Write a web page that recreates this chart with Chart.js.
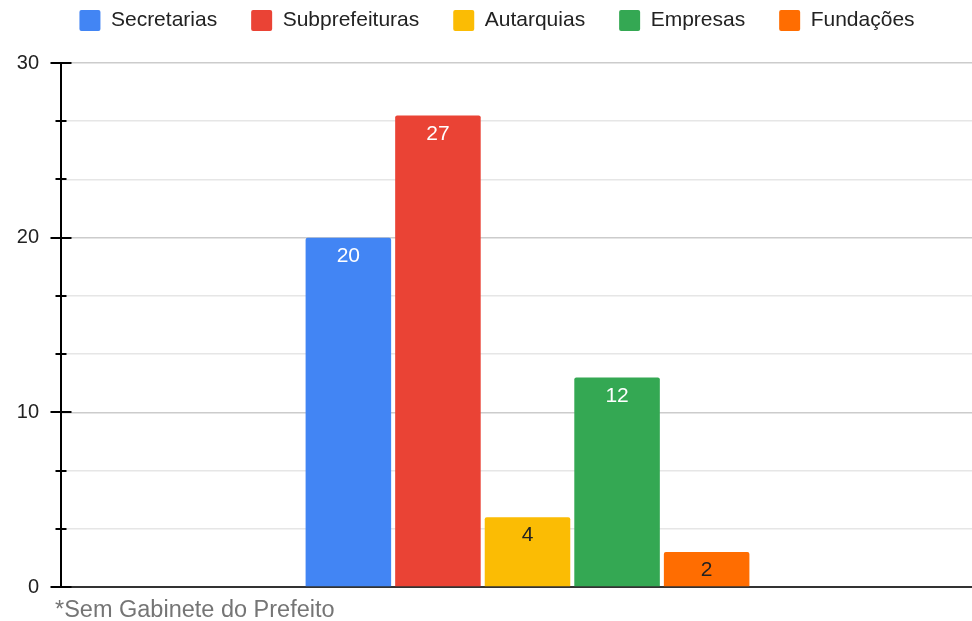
<!DOCTYPE html>
<html>
<head>
<meta charset="utf-8">
<script src="https://cdn.jsdelivr.net/npm/chart.js@4"></script>
<style>
  html, body { margin: 0; padding: 0; background: #fff; overflow: hidden; width: 972px; height: 621px; }
  #wrap { position: relative; width: 994px; height: 621px; }
  #note { position: absolute; left: 55px; top: 598px; font: 23.5px/23.5px "Liberation Sans", Arial, sans-serif; color: #757575; white-space: nowrap; }
</style>
</head>
<body>
<div id="wrap">
  <canvas id="c" width="994" height="621"></canvas>
  <div id="note">*Sem Gabinete do Prefeito</div>
</div>
<script>
const categories = [''];
const seriesNames = ['Secretarias', 'Subprefeituras', 'Autarquias', 'Empresas', 'Fundações'];
const seriesValues = [20, 27, 4, 12, 2];
const seriesColors = ['#4285F4', '#EA4335', '#FBBC04', '#34A853', '#FF6D01'];
const labelColors = ['#ffffff', '#ffffff', '#222222', '#ffffff', '#222222'];
const majorTicks = [0, 10, 20, 30];
const minorPerMajor = 3;

const FONT = '"Liberation Sans", Arial, sans-serif';
const yMin = majorTicks[0], yMax = majorTicks[majorTicks.length - 1];
const yStep = (majorTicks[1] - majorTicks[0]) / minorPerMajor;
const isMajor = v => majorTicks.some(m => Math.abs(m - v) < 1e-6);

const legendFix = {
  id: 'legendFix',
  beforeInit(chart) {
    const lg = chart.legend;
    if (!lg) return;
    const orig = lg.fit;
    lg.fit = function () { orig.call(this); this.height = 63; };
  },
  afterLayout(chart) {
    const lg = chart.legend;
    if (!lg) return;
    const pad = lg.options.labels.padding;
    const shift = (lg.top + pad) - 10;
    lg.top -= shift; lg.bottom -= shift;
    if (lg.legendHitBoxes) lg.legendHitBoxes.forEach(b => { b.top -= shift; });
  }
};

const valueLabels = {
  id: 'valueLabels',
  afterDatasetsDraw(chart) {
    const ctx = chart.ctx;
    ctx.save();
    ctx.font = '21px ' + FONT;
    ctx.textAlign = 'center';
    ctx.textBaseline = 'middle';
    chart.data.datasets.forEach((ds, i) => {
      const meta = chart.getDatasetMeta(i);
      meta.data.forEach((bar, j) => {
        ctx.fillStyle = labelColors[i];
        ctx.fillText(String(ds.data[j]), bar.x, bar.y + 18.5);
      });
    });
    ctx.restore();
  }
};

const tickMarks = {
  id: 'tickMarks',
  afterDraw(chart) {
    const y = chart.scales.y;
    const x0 = chart.chartArea.left;
    const ctx = chart.ctx;
    ctx.save();
    ctx.strokeStyle = '#000';
    ctx.lineWidth = 2;
    y.ticks.forEach(t => {
      const py = Math.round(y.getPixelForValue(t.value));
      const half = isMajor(t.value) ? 10.5 : 5.5;
      ctx.beginPath();
      ctx.moveTo(x0 - half, py);
      ctx.lineTo(x0 + half, py);
      ctx.stroke();
    });
    ctx.restore();
  }
};

new Chart(document.getElementById('c'), {
  type: 'bar',
  data: {
    labels: categories,
    datasets: seriesNames.map((name, i) => ({
      label: name,
      data: [seriesValues[i]],
      backgroundColor: seriesColors[i],
      borderRadius: 2,
      borderSkipped: 'start',
      categoryPercentage: 0.48,
      barPercentage: 0.955
    }))
  },
  options: {
    responsive: false,
    animation: false,
    devicePixelRatio: 1,
    layout: { padding: { top: 0, bottom: 34, left: 0, right: 0 } },
    plugins: {
      legend: {
        position: 'top',
        align: 'center',
        labels: {
          font: { family: FONT, size: 21 },
          color: '#222',
          boxWidth: 21,
          boxHeight: 21,
          useBorderRadius: true,
          borderRadius: 2,
          padding: 34
        }
      },
      tooltip: { enabled: false },
      title: { display: false }
    },
    scales: {
      x: {
        grid: { display: false },
        border: { display: true, color: '#333', width: 2 },
        ticks: { display: false },
        afterFit(s) { s.height = 0; }
      },
      y: {
        min: yMin,
        max: yMax,
        afterBuildTicks(s) {
          const t = [];
          for (let v = yMin; v <= yMax + 1e-9; v += yStep) t.push({ value: v });
          s.ticks = t;
        },
        afterFit(s) { s.width = 61; },
        border: { display: true, color: '#000', width: 2 },
        grid: {
          drawTicks: false,
          color: ctx => isMajor(ctx.tick.value) ? '#cccccc' : '#e6e6e6',
          lineWidth: 1.5
        },
        ticks: {
          padding: 22,
          color: '#222',
          font: { family: FONT, size: 20 },
          callback: v => isMajor(v) ? String(Math.round(v)) : ''
        }
      }
    }
  },
  plugins: [legendFix, valueLabels, tickMarks]
});
</script>
</body>
</html>
